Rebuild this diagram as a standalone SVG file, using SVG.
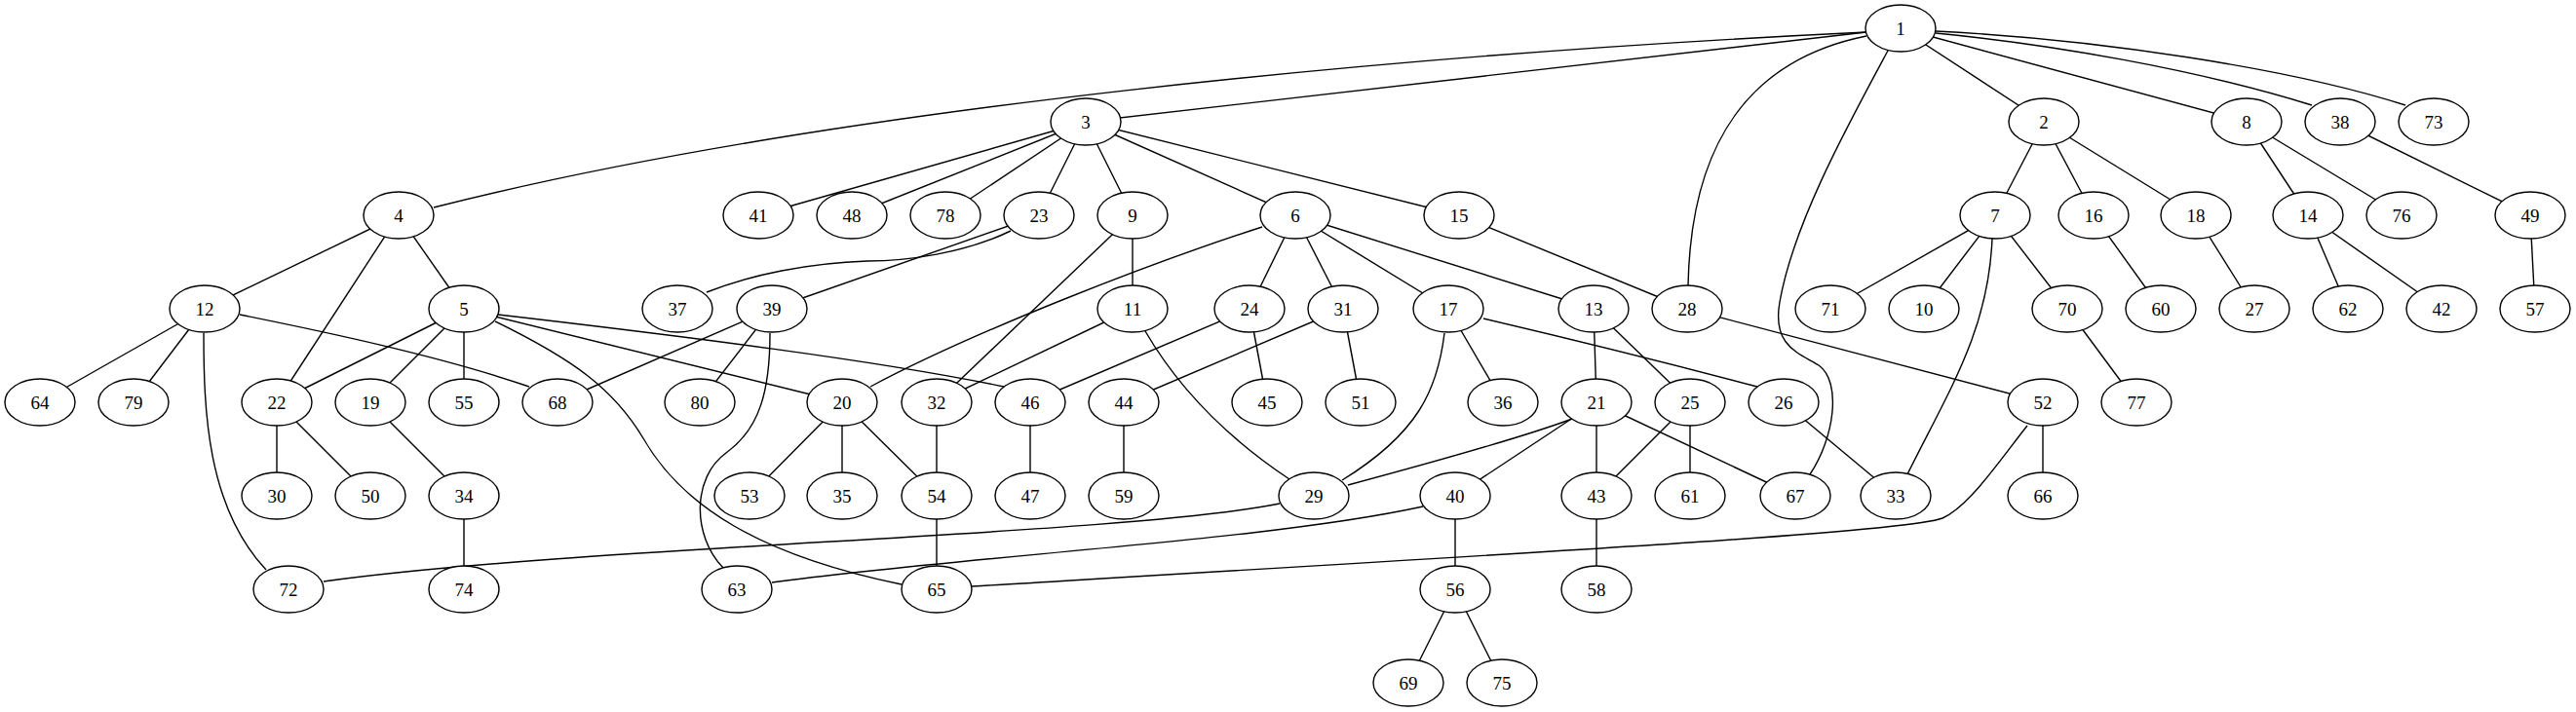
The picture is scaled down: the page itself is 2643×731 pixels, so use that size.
<svg xmlns="http://www.w3.org/2000/svg" width="2643" height="731" viewBox="0 0 2643 731">
<style>
.e line,.e path{stroke:#000;stroke-width:1.4;fill:none}
.n ellipse{fill:#fff;stroke:#000;stroke-width:1.4}
.n text{font-family:"Liberation Serif","Times New Roman",serif;font-size:19px;text-anchor:middle;fill:#000}
</style>
<rect width="2643" height="731" fill="#fff"/>
<g id="edges" class="e">
<line x1="1950" y1="29" x2="2097" y2="125"/>
<line x1="1950" y1="29" x2="1114" y2="125"/>
<path d="M1915,33 C1450,55 850,110 445,213"/>
<line x1="1950" y1="29" x2="2305" y2="125"/>
<path d="M1986,34 C2100,45 2250,70 2372,108"/>
<path d="M1986,32 C2150,40 2350,70 2468,108"/>
<path d="M1915,37 C1800,60 1735,140 1732,293"/>
<path d="M1937,52 C1895,130 1840,230 1826,310 C1818,355 1845,362 1866,375 C1890,392 1882,450 1857,487"/>
<line x1="2097" y1="125" x2="2047" y2="221"/>
<line x1="2097" y1="125" x2="2148" y2="221"/>
<line x1="2097" y1="125" x2="2253" y2="221"/>
<line x1="1114" y1="125" x2="778" y2="221"/>
<line x1="1114" y1="125" x2="874" y2="221"/>
<line x1="1114" y1="125" x2="970" y2="221"/>
<line x1="1114" y1="125" x2="1066" y2="221"/>
<line x1="1114" y1="125" x2="1162" y2="221"/>
<line x1="1114" y1="125" x2="1329" y2="221"/>
<line x1="1114" y1="125" x2="1497" y2="221"/>
<line x1="409" y1="221" x2="210" y2="317"/>
<line x1="409" y1="221" x2="284" y2="413"/>
<line x1="409" y1="221" x2="476" y2="317"/>
<line x1="476" y1="317" x2="284" y2="413"/>
<line x1="476" y1="317" x2="380" y2="413"/>
<line x1="476" y1="317" x2="476" y2="413"/>
<line x1="476" y1="317" x2="864" y2="413"/>
<path d="M511,323 C700,345 900,370 1030,397"/>
<path d="M508,330 C590,370 630,400 660,450 C700,520 780,570 925,600"/>
<path d="M1295,233 C1180,270 1000,340 893,397"/>
<line x1="1329" y1="221" x2="1282" y2="317"/>
<line x1="1329" y1="221" x2="1378" y2="317"/>
<line x1="1329" y1="221" x2="1486" y2="317"/>
<line x1="1329" y1="221" x2="1635" y2="317"/>
<line x1="2047" y1="221" x2="1878" y2="317"/>
<line x1="2047" y1="221" x2="1974" y2="317"/>
<line x1="2047" y1="221" x2="2121" y2="317"/>
<path d="M2044,245 C2040,340 2000,400 1957,487"/>
<line x1="2305" y1="125" x2="2368" y2="221"/>
<line x1="2305" y1="125" x2="2464" y2="221"/>
<line x1="1162" y1="221" x2="1162" y2="317"/>
<line x1="1162" y1="221" x2="961" y2="413"/>
<line x1="1162" y1="317" x2="961" y2="413"/>
<path d="M1175,340 C1210,400 1260,450 1323,492"/>
<line x1="210" y1="317" x2="41" y2="413"/>
<line x1="210" y1="317" x2="137" y2="413"/>
<path d="M209,342 C209,420 212,520 273,585"/>
<path d="M246,323 C330,340 450,365 543,397"/>
<line x1="1635" y1="317" x2="1638" y2="413"/>
<line x1="1635" y1="317" x2="1734" y2="413"/>
<line x1="2368" y1="221" x2="2409" y2="317"/>
<line x1="2368" y1="221" x2="2505" y2="317"/>
<line x1="1497" y1="221" x2="1731" y2="317"/>
<line x1="2148" y1="221" x2="2217" y2="317"/>
<line x1="1486" y1="317" x2="1542" y2="413"/>
<path d="M1482,342 C1475,400 1455,445 1377,493"/>
<path d="M1522,327 C1620,350 1720,375 1803,397"/>
<line x1="2253" y1="221" x2="2313" y2="317"/>
<line x1="864" y1="413" x2="769" y2="509"/>
<line x1="864" y1="413" x2="864" y2="509"/>
<line x1="864" y1="413" x2="961" y2="509"/>
<path d="M1613,430 C1560,450 1450,480 1383,498"/>
<line x1="1638" y1="413" x2="1493" y2="509"/>
<line x1="1638" y1="413" x2="1638" y2="509"/>
<line x1="1638" y1="413" x2="1842" y2="509"/>
<line x1="284" y1="413" x2="284" y2="509"/>
<line x1="284" y1="413" x2="380" y2="509"/>
<path d="M1037,237 C990,260 930,268 890,268 C830,270 770,282 725,300"/>
<line x1="1066" y1="221" x2="792" y2="317"/>
<line x1="1282" y1="317" x2="1057" y2="413"/>
<line x1="1282" y1="317" x2="1300" y2="413"/>
<line x1="1734" y1="413" x2="1638" y2="509"/>
<line x1="1734" y1="413" x2="1734" y2="509"/>
<line x1="1830" y1="413" x2="1945" y2="509"/>
<line x1="1731" y1="317" x2="2096" y2="413"/>
<path d="M1313,517 C1150,550 600,560 332,597"/>
<line x1="1378" y1="317" x2="1153" y2="413"/>
<line x1="1378" y1="317" x2="1396" y2="413"/>
<line x1="961" y1="413" x2="961" y2="509"/>
<line x1="380" y1="413" x2="476" y2="509"/>
<line x1="476" y1="509" x2="476" y2="605"/>
<line x1="2401" y1="125" x2="2596" y2="221"/>
<line x1="792" y1="317" x2="572" y2="413"/>
<line x1="792" y1="317" x2="718" y2="413"/>
<path d="M790,342 C790,400 780,440 745,465 C710,490 710,550 742,583"/>
<line x1="1493" y1="509" x2="1493" y2="605"/>
<path d="M1460,520 C1300,555 1000,570 792,598"/>
<line x1="1638" y1="509" x2="1638" y2="605"/>
<line x1="1153" y1="413" x2="1153" y2="509"/>
<line x1="1057" y1="413" x2="1057" y2="509"/>
<line x1="2596" y1="221" x2="2601" y2="317"/>
<line x1="2096" y1="413" x2="2096" y2="509"/>
<path d="M2080,437 C2050,475 2020,520 1993,532 C1960,545 1700,560 997,602"/>
<line x1="961" y1="509" x2="961" y2="605"/>
<line x1="1493" y1="605" x2="1445" y2="701"/>
<line x1="1493" y1="605" x2="1541" y2="701"/>
<line x1="2121" y1="317" x2="2192" y2="413"/>
</g>
<g id="node1" class="n"><ellipse cx="1950" cy="29" rx="36" ry="24"/><text x="1950" y="35.5">1</text></g>
<g id="node3" class="n"><ellipse cx="1114" cy="125" rx="36" ry="24"/><text x="1114" y="131.5">3</text></g>
<g id="node2" class="n"><ellipse cx="2097" cy="125" rx="36" ry="24"/><text x="2097" y="131.5">2</text></g>
<g id="node8" class="n"><ellipse cx="2305" cy="125" rx="36" ry="24"/><text x="2305" y="131.5">8</text></g>
<g id="node38" class="n"><ellipse cx="2401" cy="125" rx="36" ry="24"/><text x="2401" y="131.5">38</text></g>
<g id="node73" class="n"><ellipse cx="2497" cy="125" rx="36" ry="24"/><text x="2497" y="131.5">73</text></g>
<g id="node4" class="n"><ellipse cx="409" cy="221" rx="36" ry="24"/><text x="409" y="227.5">4</text></g>
<g id="node41" class="n"><ellipse cx="778" cy="221" rx="36" ry="24"/><text x="778" y="227.5">41</text></g>
<g id="node48" class="n"><ellipse cx="874" cy="221" rx="36" ry="24"/><text x="874" y="227.5">48</text></g>
<g id="node78" class="n"><ellipse cx="970" cy="221" rx="36" ry="24"/><text x="970" y="227.5">78</text></g>
<g id="node23" class="n"><ellipse cx="1066" cy="221" rx="36" ry="24"/><text x="1066" y="227.5">23</text></g>
<g id="node9" class="n"><ellipse cx="1162" cy="221" rx="36" ry="24"/><text x="1162" y="227.5">9</text></g>
<g id="node6" class="n"><ellipse cx="1329" cy="221" rx="36" ry="24"/><text x="1329" y="227.5">6</text></g>
<g id="node15" class="n"><ellipse cx="1497" cy="221" rx="36" ry="24"/><text x="1497" y="227.5">15</text></g>
<g id="node7" class="n"><ellipse cx="2047" cy="221" rx="36" ry="24"/><text x="2047" y="227.5">7</text></g>
<g id="node16" class="n"><ellipse cx="2148" cy="221" rx="36" ry="24"/><text x="2148" y="227.5">16</text></g>
<g id="node18" class="n"><ellipse cx="2253" cy="221" rx="36" ry="24"/><text x="2253" y="227.5">18</text></g>
<g id="node14" class="n"><ellipse cx="2368" cy="221" rx="36" ry="24"/><text x="2368" y="227.5">14</text></g>
<g id="node76" class="n"><ellipse cx="2464" cy="221" rx="36" ry="24"/><text x="2464" y="227.5">76</text></g>
<g id="node49" class="n"><ellipse cx="2596" cy="221" rx="36" ry="24"/><text x="2596" y="227.5">49</text></g>
<g id="node12" class="n"><ellipse cx="210" cy="317" rx="36" ry="24"/><text x="210" y="323.5">12</text></g>
<g id="node5" class="n"><ellipse cx="476" cy="317" rx="36" ry="24"/><text x="476" y="323.5">5</text></g>
<g id="node37" class="n"><ellipse cx="695" cy="317" rx="36" ry="24"/><text x="695" y="323.5">37</text></g>
<g id="node39" class="n"><ellipse cx="792" cy="317" rx="36" ry="24"/><text x="792" y="323.5">39</text></g>
<g id="node11" class="n"><ellipse cx="1162" cy="317" rx="36" ry="24"/><text x="1162" y="323.5">11</text></g>
<g id="node24" class="n"><ellipse cx="1282" cy="317" rx="36" ry="24"/><text x="1282" y="323.5">24</text></g>
<g id="node31" class="n"><ellipse cx="1378" cy="317" rx="36" ry="24"/><text x="1378" y="323.5">31</text></g>
<g id="node17" class="n"><ellipse cx="1486" cy="317" rx="36" ry="24"/><text x="1486" y="323.5">17</text></g>
<g id="node13" class="n"><ellipse cx="1635" cy="317" rx="36" ry="24"/><text x="1635" y="323.5">13</text></g>
<g id="node28" class="n"><ellipse cx="1731" cy="317" rx="36" ry="24"/><text x="1731" y="323.5">28</text></g>
<g id="node71" class="n"><ellipse cx="1878" cy="317" rx="36" ry="24"/><text x="1878" y="323.5">71</text></g>
<g id="node10" class="n"><ellipse cx="1974" cy="317" rx="36" ry="24"/><text x="1974" y="323.5">10</text></g>
<g id="node70" class="n"><ellipse cx="2121" cy="317" rx="36" ry="24"/><text x="2121" y="323.5">70</text></g>
<g id="node60" class="n"><ellipse cx="2217" cy="317" rx="36" ry="24"/><text x="2217" y="323.5">60</text></g>
<g id="node27" class="n"><ellipse cx="2313" cy="317" rx="36" ry="24"/><text x="2313" y="323.5">27</text></g>
<g id="node62" class="n"><ellipse cx="2409" cy="317" rx="36" ry="24"/><text x="2409" y="323.5">62</text></g>
<g id="node42" class="n"><ellipse cx="2505" cy="317" rx="36" ry="24"/><text x="2505" y="323.5">42</text></g>
<g id="node57" class="n"><ellipse cx="2601" cy="317" rx="36" ry="24"/><text x="2601" y="323.5">57</text></g>
<g id="node64" class="n"><ellipse cx="41" cy="413" rx="36" ry="24"/><text x="41" y="419.5">64</text></g>
<g id="node79" class="n"><ellipse cx="137" cy="413" rx="36" ry="24"/><text x="137" y="419.5">79</text></g>
<g id="node22" class="n"><ellipse cx="284" cy="413" rx="36" ry="24"/><text x="284" y="419.5">22</text></g>
<g id="node19" class="n"><ellipse cx="380" cy="413" rx="36" ry="24"/><text x="380" y="419.5">19</text></g>
<g id="node55" class="n"><ellipse cx="476" cy="413" rx="36" ry="24"/><text x="476" y="419.5">55</text></g>
<g id="node68" class="n"><ellipse cx="572" cy="413" rx="36" ry="24"/><text x="572" y="419.5">68</text></g>
<g id="node80" class="n"><ellipse cx="718" cy="413" rx="36" ry="24"/><text x="718" y="419.5">80</text></g>
<g id="node20" class="n"><ellipse cx="864" cy="413" rx="36" ry="24"/><text x="864" y="419.5">20</text></g>
<g id="node32" class="n"><ellipse cx="961" cy="413" rx="36" ry="24"/><text x="961" y="419.5">32</text></g>
<g id="node46" class="n"><ellipse cx="1057" cy="413" rx="36" ry="24"/><text x="1057" y="419.5">46</text></g>
<g id="node44" class="n"><ellipse cx="1153" cy="413" rx="36" ry="24"/><text x="1153" y="419.5">44</text></g>
<g id="node45" class="n"><ellipse cx="1300" cy="413" rx="36" ry="24"/><text x="1300" y="419.5">45</text></g>
<g id="node51" class="n"><ellipse cx="1396" cy="413" rx="36" ry="24"/><text x="1396" y="419.5">51</text></g>
<g id="node36" class="n"><ellipse cx="1542" cy="413" rx="36" ry="24"/><text x="1542" y="419.5">36</text></g>
<g id="node21" class="n"><ellipse cx="1638" cy="413" rx="36" ry="24"/><text x="1638" y="419.5">21</text></g>
<g id="node25" class="n"><ellipse cx="1734" cy="413" rx="36" ry="24"/><text x="1734" y="419.5">25</text></g>
<g id="node26" class="n"><ellipse cx="1830" cy="413" rx="36" ry="24"/><text x="1830" y="419.5">26</text></g>
<g id="node52" class="n"><ellipse cx="2096" cy="413" rx="36" ry="24"/><text x="2096" y="419.5">52</text></g>
<g id="node77" class="n"><ellipse cx="2192" cy="413" rx="36" ry="24"/><text x="2192" y="419.5">77</text></g>
<g id="node30" class="n"><ellipse cx="284" cy="509" rx="36" ry="24"/><text x="284" y="515.5">30</text></g>
<g id="node50" class="n"><ellipse cx="380" cy="509" rx="36" ry="24"/><text x="380" y="515.5">50</text></g>
<g id="node34" class="n"><ellipse cx="476" cy="509" rx="36" ry="24"/><text x="476" y="515.5">34</text></g>
<g id="node53" class="n"><ellipse cx="769" cy="509" rx="36" ry="24"/><text x="769" y="515.5">53</text></g>
<g id="node35" class="n"><ellipse cx="864" cy="509" rx="36" ry="24"/><text x="864" y="515.5">35</text></g>
<g id="node54" class="n"><ellipse cx="961" cy="509" rx="36" ry="24"/><text x="961" y="515.5">54</text></g>
<g id="node47" class="n"><ellipse cx="1057" cy="509" rx="36" ry="24"/><text x="1057" y="515.5">47</text></g>
<g id="node59" class="n"><ellipse cx="1153" cy="509" rx="36" ry="24"/><text x="1153" y="515.5">59</text></g>
<g id="node29" class="n"><ellipse cx="1348" cy="509" rx="36" ry="24"/><text x="1348" y="515.5">29</text></g>
<g id="node40" class="n"><ellipse cx="1493" cy="509" rx="36" ry="24"/><text x="1493" y="515.5">40</text></g>
<g id="node43" class="n"><ellipse cx="1638" cy="509" rx="36" ry="24"/><text x="1638" y="515.5">43</text></g>
<g id="node61" class="n"><ellipse cx="1734" cy="509" rx="36" ry="24"/><text x="1734" y="515.5">61</text></g>
<g id="node67" class="n"><ellipse cx="1842" cy="509" rx="36" ry="24"/><text x="1842" y="515.5">67</text></g>
<g id="node33" class="n"><ellipse cx="1945" cy="509" rx="36" ry="24"/><text x="1945" y="515.5">33</text></g>
<g id="node66" class="n"><ellipse cx="2096" cy="509" rx="36" ry="24"/><text x="2096" y="515.5">66</text></g>
<g id="node72" class="n"><ellipse cx="296" cy="605" rx="36" ry="24"/><text x="296" y="611.5">72</text></g>
<g id="node74" class="n"><ellipse cx="476" cy="605" rx="36" ry="24"/><text x="476" y="611.5">74</text></g>
<g id="node63" class="n"><ellipse cx="756" cy="605" rx="36" ry="24"/><text x="756" y="611.5">63</text></g>
<g id="node65" class="n"><ellipse cx="961" cy="605" rx="36" ry="24"/><text x="961" y="611.5">65</text></g>
<g id="node56" class="n"><ellipse cx="1493" cy="605" rx="36" ry="24"/><text x="1493" y="611.5">56</text></g>
<g id="node58" class="n"><ellipse cx="1638" cy="605" rx="36" ry="24"/><text x="1638" y="611.5">58</text></g>
<g id="node69" class="n"><ellipse cx="1445" cy="701" rx="36" ry="24"/><text x="1445" y="707.5">69</text></g>
<g id="node75" class="n"><ellipse cx="1541" cy="701" rx="36" ry="24"/><text x="1541" y="707.5">75</text></g>
</svg>
